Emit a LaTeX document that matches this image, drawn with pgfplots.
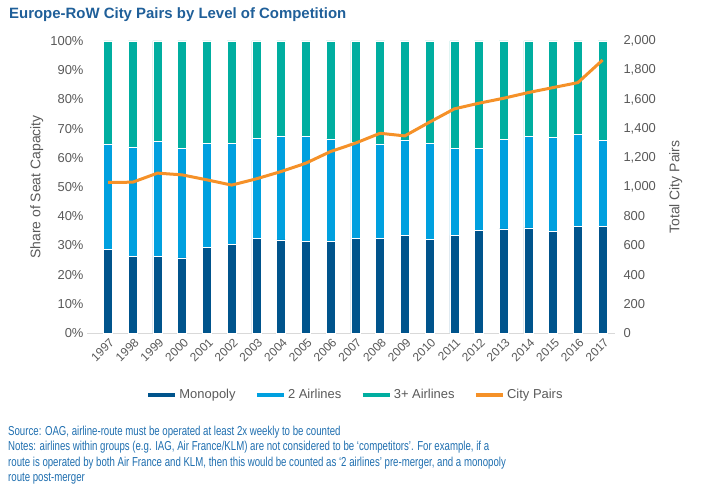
\documentclass[border=0pt]{standalone}
\usepackage{fontspec}
\setmainfont{Liberation Sans}
\newfontfamily\notefont[FakeStretch=0.745]{Liberation Sans}
\usepackage{pgfplots}
\pgfplotsset{compat=1.18}
\definecolor{mono}{RGB}{0,84,140}
\definecolor{two}{RGB}{0,160,223}
\definecolor{three}{RGB}{0,174,160}
\definecolor{cp}{RGB}{245,145,40}
\definecolor{tickc}{RGB}{89,89,89}
\definecolor{ttl}{RGB}{31,95,153}
\definecolor{notec}{RGB}{30,110,175}
\definecolor{axc}{RGB}{217,217,217}

\pgfplotstableread{
x mono two three
0 28.7 36.1 35.2
1 26.2 37.5 36.3
2 26.2 39.5 34.3
3 25.7 37.4 36.9
4 29.3 35.7 35.0
5 30.4 34.5 35.1
6 32.4 34.3 33.3
7 31.9 35.6 32.5
8 31.4 35.9 32.7
9 31.4 35.1 33.5
10 32.4 32.8 34.8
11 32.4 32.4 35.2
12 33.4 32.7 33.9
13 32.0 32.9 35.1
14 33.4 29.8 36.8
15 35.2 28.0 36.8
16 35.7 30.7 33.6
17 36.0 31.3 32.7
18 34.8 32.1 33.1
19 36.5 31.5 32.0
20 36.5 29.4 34.1
}\shares

\pgfplotstableread{
x pairs
0 1031
1 1033
2 1095
3 1083
4 1049
5 1013
6 1056
7 1106
8 1163
9 1243
10 1300
11 1368
12 1350
13 1444
14 1535
15 1574
16 1608
17 1647
18 1681
19 1715
20 1870
}\citypairs

\begin{document}
\begin{tikzpicture}
\path[use as bounding box] (0bp,0bp) rectangle (720bp,503bp);
\node[anchor=north west, font=\bfseries\fontsize{15}{18}\selectfont, text=ttl, inner sep=0] at (9bp,496bp) {Europe-RoW City Pairs by Level of Competition};

\begin{axis}[
  at={(87bp,170bp)}, anchor=south west,
  width=528bp, height=292bp, scale only axis,
  ymin=0, ymax=100, xmin=-0.85, xmax=20.5,
  ybar stacked, bar width=9bp,
  axis x line*=bottom, axis y line*=left,
  x axis line style={draw=axc, line width=0.8bp, -},
  y axis line style={draw=none},
  major tick length=0,
  ytick={0,10,...,100},
  yticklabel={\pgfmathprintnumber{\tick}\%},
  xtick=data,
  xticklabels={1997,1998,1999,2000,2001,2002,2003,2004,2005,2006,2007,2008,2009,2010,2011,2012,2013,2014,2015,2016,2017},
  x tick label style={rotate=45, anchor=east, font=\fontsize{12}{14}\selectfont, text=tickc, yshift=-8bp, xshift=1bp},
  y tick label style={font=\fontsize{13}{15}\selectfont, text=tickc},
  /pgf/number format/assume math mode=true,
  ylabel={Share of Seat Capacity},
  ylabel style={at={(axis description cs:-0.095,0.5)}, anchor=center, font=\fontsize{14}{16}\selectfont, text=tickc},
  clip=false,
]
\addplot[fill=mono, draw=white, line width=0.5bp] table[x=x, y=mono] {\shares};
\addplot[fill=two, draw=white, line width=0.5bp] table[x=x, y=two] {\shares};
\addplot[fill=three, draw=white, line width=0.5bp] table[x=x, y=three] {\shares};
\end{axis}

\begin{axis}[
  at={(87bp,170bp)}, anchor=south west,
  width=528bp, height=292bp, scale only axis,
  ymin=0, ymax=2000, xmin=-0.85, xmax=20.5,
  axis x line=none, axis y line*=right,
  y axis line style={draw=none},
  major tick length=0,
  ytick={0,200,...,2000},
  y tick label style={font=\fontsize{13}{15}\selectfont, text=tickc, xshift=5bp},
  /pgf/number format/.cd, 1000 sep={,}, assume math mode=true, /pgfplots/.cd,
  ylabel={Total City Pairs},
  ylabel style={at={(axis description cs:1.115,0.5)}, anchor=center, rotate=0, font=\fontsize{14}{16}\selectfont, text=tickc},
  legend style={at={(axis description cs:0.508,-0.212)}, anchor=center, draw=none, fill=none,
    legend columns=4, font=\fontsize{13}{15}\selectfont, text=tickc,
    /tikz/every even column/.append style={column sep=17bp}},
  legend image code/.code={\draw[#1, line width=4.5bp] (0bp,0bp) -- (27bp,0bp);},
  clip=false,
]
\addlegendimage{mono}
\addlegendentry{Monopoly}
\addlegendimage{two}
\addlegendentry{2 Airlines}
\addlegendimage{three}
\addlegendentry{3+ Airlines}
\addplot[cp, line width=3bp, mark=none, line join=round] table[x=x, y=pairs] {\citypairs};
\addlegendentry{City Pairs}
\end{axis}

\begin{scope}[every node/.style={anchor=base west, inner sep=0, text=notec, font=\notefont\fontsize{13}{15}\selectfont}]
\node at (8bp,67bp) {Source: OAG, airline-route must be operated at least 2x weekly to be counted};
\node at (8bp,52bp) {Notes: airlines within groups (e.g. IAG, Air France/KLM) are not considered to be ‘competitors’. For example, if a};
\node at (8bp,37bp) {route is operated by both Air France and KLM, then this would be counted as ‘2 airlines’ pre-merger, and a monopoly};
\node at (8bp,22bp) {route post-merger};
\end{scope}
\end{tikzpicture}
\end{document}
